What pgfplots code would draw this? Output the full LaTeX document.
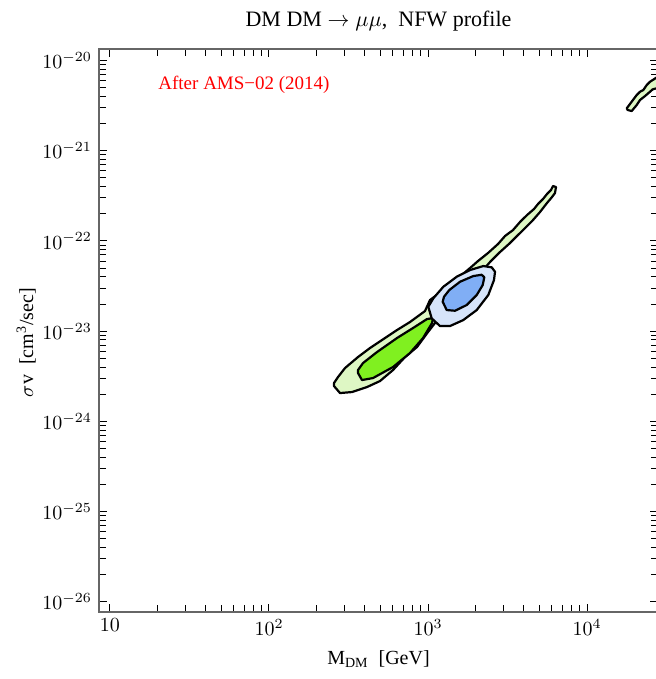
\documentclass[border=0pt]{standalone}
\usepackage{fontspec}
\setmainfont{Liberation Serif}
\usepackage{pgfplots}
\pgfplotsset{compat=1.18}
\definecolor{lgreen}{HTML}{DEF7C4}
\definecolor{dgreen}{HTML}{80F020}
\definecolor{lblue}{HTML}{D6E4FA}
\definecolor{dblue}{HTML}{80AEF5}
\begin{document}
\begin{tikzpicture}
\begin{axis}[
  scale only axis, width=279.5pt, height=281.5pt,
  xmode=log, ymode=log,
  xmin=8.53, xmax=27960, ymin=7.69e-27, ymax=1.345e-20,
  xtick={10,100,1000,10000}, xticklabels={$10$,$10^2$,$10^3$,$10^4$},
  ytick={1e-26,1e-25,1e-24,1e-23,1e-22,1e-21,1e-20},
  tick align=inside,
  major tick length=4pt, minor tick length=3.5pt,
  axis line style={black!60, line width=0.7pt},
  every tick/.style={black, line width=0.5pt},
  title={DM DM $\rightarrow \mu\mu$,\ \ NFW profile},
  title style={font=\fontsize{11}{13}\selectfont, anchor=base, yshift=5.5pt},
  xlabel={M\textsubscript{DM}\ \ [GeV]},
  xlabel style={yshift=-1pt},
  ylabel={$\sigma$v\ \ [cm\textsuperscript{3}/sec]},
  ylabel style={xshift=-6pt, yshift=-3.5pt},
  every axis plot/.append style={line width=1.1pt, line join=round},
  clip=true,
]
% light green outer region
\addplot[fill=lgreen, draw=black] coordinates {
(256.4,2.464e-24) (279.6,2.061e-24) (332.7,2.114e-24) (413.4,2.402e-24) (499.1,2.800e-24)
(602.4,3.707e-24) (716.8,5.166e-24) (852.7,6.669e-24) (1000,9.783e-24) (1279,1.716e-23)
(1838,3.248e-23) (2454,5.843e-23) (2837,7.543e-23) (3279,9.493e-23) (3629,1.135e-22)
(4076,1.392e-22) (4576,1.708e-22) (5062,2.095e-22) (5602,2.636e-22) (6024,3.073e-22)
(6290,3.402e-22) (6383,3.966e-22) (6111,4.068e-22) (5937,3.674e-22) (5602,3.316e-22)
(5288,2.920e-22) (4918,2.570e-22) (4642,2.262e-22) (4195,1.940e-22) (3789,1.623e-22)
(3425,1.322e-22) (3050,1.135e-22) (2756,9.254e-23) (2384,7.353e-23) (2063,5.995e-23)
(1838,5.013e-23) (1375,3.248e-23) (1029,2.215e-23) (957.5,1.672e-23) (770.2,1.263e-23)
(638.3,1.029e-23) (536.5,8.393e-24) (431.7,6.501e-24) (362.9,5.166e-24) (300.6,3.901e-24)
(271.6,3.100e-24) (256.4,2.660e-24)
} -- cycle;
% dark green inner region
\addplot[fill=dgreen, draw=black] coordinates {
(362.9,3.434e-24) (384.6,2.871e-24) (451.0,3.022e-24) (602.4,4.002e-24) (770.2,5.722e-24)
(930.3,8.393e-24) (1060,1.231e-23) (1075,1.398e-23) (985.6,1.363e-23) (804.4,1.083e-23)
(638.3,8.393e-24) (477.9,5.870e-24) (390.2,4.433e-24) (362.9,3.707e-24)
} -- cycle;
% light blue outer region
\addplot[fill=lblue, draw=black] coordinates {
(1004,1.866e-23) (1055,1.388e-23) (1190,1.140e-23) (1375,1.140e-23) (1667,1.328e-23)
(2025,1.716e-23) (2394,2.516e-23) (2601,3.691e-23) (2639,4.562e-23) (2516,5.103e-23)
(2227,5.276e-23) (1838,4.764e-23) (1515,4.015e-23) (1249,3.111e-23) (1080,2.313e-23)
} -- cycle;
% blue inner region
\addplot[fill=dblue, draw=black] coordinates {
(1237,2.120e-23) (1311,1.716e-23) (1479,1.685e-23) (1752,1.950e-23) (2025,2.516e-23)
(2208,3.248e-23) (2260,3.954e-23) (2176,4.224e-23) (1927,4.086e-23) (1590,3.533e-23)
(1361,2.858e-23) (1261,2.409e-23)
} -- cycle;
% top-right light green region
\addplot[fill=lgreen, draw=black] coordinates {
(17770,2.959e-21) (18030,2.832e-21) (19100,2.761e-21) (20540,3.219e-21) (21540,3.657e-21)
(23170,4.049e-21) (24900,4.519e-21) (25890,4.805e-21) (30950,5.229e-21) (30950,7.472e-21)
(25890,6.093e-21) (24900,5.834e-21) (23750,5.364e-21) (22600,4.721e-21) (21540,4.519e-21)
(20540,4.154e-21) (19100,3.501e-21)
} -- cycle;
\node[anchor=west, inner sep=0pt, text=red, font=\fontsize{9.5}{11}\selectfont]
  at (axis cs:20.05,5.36e-21) {After AMS−02 (2014)};
\end{axis}
\pgfresetboundingbox
\path[use as bounding box] (-49.5pt,-33.5pt) rectangle (278.5pt,306pt);
\end{tikzpicture}
\end{document}
